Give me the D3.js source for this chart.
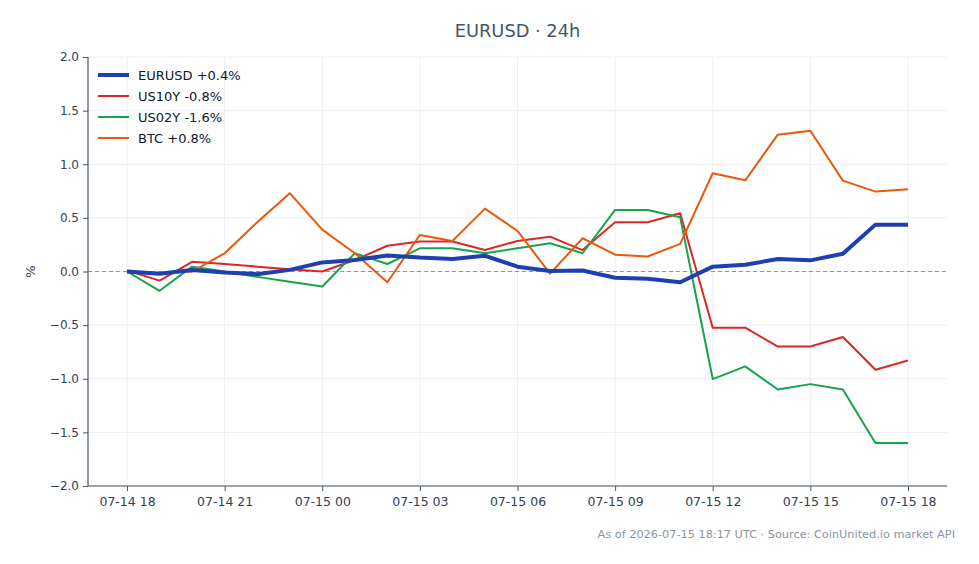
<!DOCTYPE html>
<html>
<head>
<meta charset="utf-8">
<script src="https://cdn.jsdelivr.net/npm/d3@7"></script>
<style>
  body { margin: 0; background: #fff; }
  svg { font-family: "DejaVu Sans", sans-serif; }
</style>
</head>
<body>
<svg id="chart" width="979" height="564"></svg>
<script>
  'use strict';

  // hourly points, 2026-07-14 18:00 .. 2026-07-15 18:00 (UTC)
  var hours = d3.range(0, 25);
  var startTime = new Date(Date.UTC(2026, 6, 14, 18));

  var eurusd = [0.00, -0.02, 0.015, -0.01, -0.025, 0.015, 0.085, 0.107, 0.15, 0.13, 0.117, 0.147, 0.045,
    0.005, 0.01, -0.058, -0.067, -0.10, 0.045, 0.063, 0.117, 0.104, 0.166, 0.437, 0.437];
  var us10y = [0.01, -0.085, 0.09, 0.07, 0.045, 0.02, 0.0, 0.107, 0.24, 0.28, 0.28, 0.20, 0.285,
    0.325, 0.20, 0.46, 0.46, 0.543, -0.524, -0.524, -0.70, -0.70, -0.61, -0.916, -0.83];
  var us02y = [0.0, -0.18, 0.045, 0.0, -0.05, -0.095, -0.14, 0.17, 0.07, 0.216, 0.216, 0.17, 0.216,
    0.263, 0.17, 0.574, 0.574, 0.505, -1.003, -0.885, -1.10, -1.05, -1.10, -1.60, -1.60];
  var btc = [0.0, -0.017, 0.0, 0.17, 0.46, 0.73, 0.39, 0.17, -0.10, 0.34, 0.285, 0.586, 0.378,
    -0.02, 0.31, 0.157, 0.14, 0.257, 0.916, 0.85, 1.276, 1.313, 0.847, 0.745, 0.767];

  var seriesNames = ['EURUSD +0.4%', 'US10Y -0.8%', 'US02Y -1.6%', 'BTC +0.8%'];
  var seriesValues = [eurusd, us10y, us02y, btc];
  var seriesColors = ['#1e40af', '#dc2626', '#16a34a', '#ea580c'];
  var seriesWidths = [4, 2, 2, 2];

  var yTicks = [-2, -1.5, -1, -0.5, 0, 0.5, 1, 1.5, 2];
  var xTickHours = [0, 3, 6, 9, 12, 15, 18, 21, 24];

  var margin = { top: 57, right: 32, bottom: 78, left: 88 };
  var width = 979, height = 564;
  var $svg = d3.select('#chart');

  function timeAt(h) {
    return new Date(startTime.getTime() + h * 3600 * 1000);
  }

  var xScale = d3.scaleUtc()
    .domain([timeAt(-1.2), timeAt(25.2)])
    .range([margin.left, width - margin.right]);
  var yScale = d3.scaleLinear()
    .domain([-2, 2])
    .range([height - margin.bottom, margin.top]);

  var fmtTime = d3.utcFormat('%m-%d %H');
  var fmtY = function(d) { return d3.format('.1f')(d).replace('-', '\u2212'); };

  // grid
  var grid = $svg.append('g').attr('class', 'grid');
  grid.selectAll('line.hgrid')
    .data(yTicks)
    .enter()
    .append('line')
    .attr('class', 'hgrid')
    .attr('x1', margin.left)
    .attr('x2', width - margin.right)
    .attr('y1', function(d) { return yScale(d); })
    .attr('y2', function(d) { return yScale(d); })
    .attr('stroke', '#e6eaf0')
    .attr('stroke-width', 0.8);
  grid.selectAll('line.vgrid')
    .data(xTickHours)
    .enter()
    .append('line')
    .attr('class', 'vgrid')
    .attr('x1', function(d) { return xScale(timeAt(d)); })
    .attr('x2', function(d) { return xScale(timeAt(d)); })
    .attr('y1', margin.top)
    .attr('y2', height - margin.bottom)
    .attr('stroke', '#e6eaf0')
    .attr('stroke-width', 0.8);

  // zero line
  $svg.append('line')
    .attr('x1', margin.left)
    .attr('x2', width - margin.right)
    .attr('y1', yScale(0))
    .attr('y2', yScale(0))
    .attr('stroke', '#8a94b0')
    .attr('stroke-width', 1)
    .attr('stroke-dasharray', '4,3');

  // axes
  var yAxis = d3.axisLeft(yScale).tickValues(yTicks).tickFormat(fmtY).tickSize(5).tickPadding(4);
  var xAxis = d3.axisBottom(xScale)
    .tickValues(xTickHours.map(timeAt))
    .tickFormat(fmtTime)
    .tickSize(5).tickPadding(6);

  var gy = $svg.append('g')
    .attr('transform', 'translate(' + margin.left + ',0)')
    .call(yAxis);
  var gx = $svg.append('g')
    .attr('transform', 'translate(0,' + (height - margin.bottom) + ')')
    .call(xAxis);

  [gx, gy].forEach(function(g) {
    g.select('.domain').attr('stroke', '#475569').attr('stroke-width', 1.2);
    g.selectAll('.tick line').attr('stroke', '#475569');
    g.selectAll('.tick text')
      .attr('fill', '#334155')
      .style('font-size', '12.5px')
      .style('font-family', '"DejaVu Sans", sans-serif');
  });
  gy.selectAll('.tick text').style('font-size', '12px');
  gx.select('.domain').attr('d', 'M' + margin.left + ',0H' + (width - margin.right));
  gy.select('.domain').attr('d', 'M0,' + margin.top + 'V' + (height - margin.bottom));

  // lines
  var line = d3.line()
    .x(function(d, i) { return xScale(timeAt(hours[i])); })
    .y(function(d) { return yScale(d); });

  var drawOrder = [1, 2, 3, 0];
  $svg.selectAll('path.series')
    .data(drawOrder)
    .enter()
    .append('path')
    .attr('class', 'series')
    .attr('d', function(k) { return line(seriesValues[k]); })
    .attr('fill', 'none')
    .attr('stroke', function(k) { return seriesColors[k]; })
    .attr('stroke-width', function(k) { return seriesWidths[k]; })
    .attr('stroke-linejoin', 'round');

  // legend
  var legend = $svg.append('g').attr('transform', 'translate(98,75)');
  var rows = legend.selectAll('g.row')
    .data(seriesNames)
    .enter()
    .append('g')
    .attr('class', 'row')
    .attr('transform', function(d, i) { return 'translate(0,' + (i * 21) + ')'; });
  rows.append('line')
    .attr('x1', 0).attr('x2', 31).attr('y1', 0).attr('y2', 0)
    .attr('stroke', function(d, i) { return seriesColors[i]; })
    .attr('stroke-width', function(d, i) { return seriesWidths[i]; });
  rows.append('text')
    .attr('x', 40).attr('y', 4.5)
    .attr('fill', '#111827')
    .style('font-size', '13px')
    .text(function(d) { return d; });

  // title
  $svg.append('text')
    .attr('x', (margin.left + width - margin.right) / 2)
    .attr('y', 37)
    .attr('text-anchor', 'middle')
    .attr('fill', '#475569')
    .style('font-size', '17.8px')
    .text('EURUSD \u00b7 24h');

  // y label
  $svg.append('text')
    .attr('transform', 'translate(35,' + yScale(0) + ') rotate(-90)')
    .attr('text-anchor', 'middle')
    .attr('fill', '#334155')
    .style('font-size', '13px')
    .text('%');

  // footer
  $svg.append('text')
    .attr('x', 955)
    .attr('y', 538)
    .attr('text-anchor', 'end')
    .attr('fill', '#8a94a6')
    .style('font-size', '11.3px')
    .text('As of 2026-07-15 18:17 UTC \u00b7 Source: CoinUnited.io market API');
</script>
</body>
</html>
